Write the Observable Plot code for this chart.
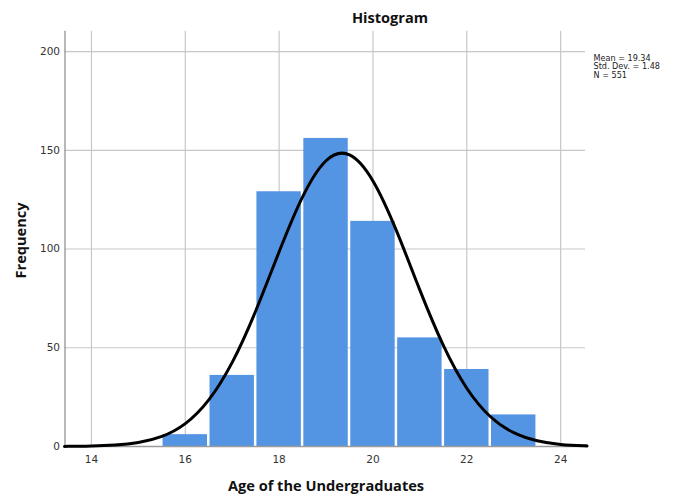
<!DOCTYPE html>
<html>
<head>
<meta charset="utf-8">
<script src="https://cdn.jsdelivr.net/npm/d3@7"></script>
<script src="https://cdn.jsdelivr.net/npm/@observablehq/plot@0.6"></script>
<style>
  html, body { margin: 0; padding: 0; background: #fff; }
</style>
</head>
<body>
<div id="chart"></div>
<script>
// Histogram bins (bin centers, width 1) and their frequencies
const binCenters = [16, 17, 18, 19, 20, 21, 22, 23];
const frequencies = [6, 36, 129, 156, 114, 55, 39, 16];

// Normal curve (age, frequency)
const curveAge  = [13.44, 13.5, 14, 14.5, 15, 15.5, 16, 16.5, 17, 17.5, 18, 18.5, 19, 19.5, 20, 20.5, 21, 21.5, 22, 22.5, 23, 23.5, 24, 24.5, 24.53];
const curveFreq = [0.06, 0.07, 0.22, 0.71, 2.0, 5.1, 11.6, 23.6, 42.6, 68.6, 98.6, 126.4, 144.7, 147.7, 134.5, 109.3, 79.2, 51.2, 29.5, 15.2, 7.0, 2.9, 1.05, 0.34, 0.32];

const xTicks = [14, 16, 18, 20, 22, 24];
const yTicks = [0, 50, 100, 150, 200];

const titleText = "Histogram";
const xLabel = "Age of the Undergraduates";
const yLabel = "Frequency";
const statsText = ["Mean = 19.34", "Std. Dev. = 1.48", "N = 551"];

const bars = binCenters.map((c, i) => ({x1: c - 0.5, x2: c + 0.5, y: frequencies[i]}));
const curve = curveAge.map((a, i) => ({x: a, y: curveFreq[i]}));
const stats = statsText.map((t, i) => ({t, i}));

const xDomain = [13.436, 24.53];
const yDomain = [0, 210.3];

const tickFont = "DejaVu Sans";
const boldFont = "'Open Sans', 'DejaVu Sans', sans-serif";
const statsFont = "'Liberation Sans Narrow', 'DejaVu Sans Condensed', sans-serif";

const chart = Plot.plot({
  width: 685,
  height: 499,
  marginLeft: 64.5,
  marginRight: 100,
  marginTop: 30.7,
  marginBottom: 53,
  style: {fontFamily: tickFont, fontSize: "10px", color: "#333", background: "#fff"},
  x: {domain: xDomain},
  y: {domain: yDomain},
  marks: [
    Plot.gridX(xTicks, {stroke: "#c8c8c8", strokeOpacity: 1, strokeWidth: 1.2}),
    Plot.gridY(yTicks.filter(d => d > 0), {stroke: "#c8c8c8", strokeOpacity: 1, strokeWidth: 1.2}),
    Plot.rectY(bars, {x1: "x1", x2: "x2", y: "y", fill: "#5495e3", insetLeft: 1.25, insetRight: 1.25}),
    Plot.ruleY([0], {stroke: "#9a9a9a", strokeWidth: 1.5}),
    Plot.ruleX([xDomain[0]], {stroke: "#8a8a8a", strokeWidth: 1.2}),
    Plot.line(curve, {x: "x", y: "y", stroke: "#000", strokeWidth: 3, curve: "natural"}),
    Plot.axisY({ticks: yTicks, tickSize: 0, tickPadding: 5, label: null, fontSize: 10.5, fill: "#333"}),
    Plot.axisX({ticks: xTicks, tickSize: 0, tickPadding: 9, label: null, fontSize: 10.5, fill: "#333"}),
    Plot.text([titleText], {text: d => d, frameAnchor: "top-left", dx: 325, dy: -12.5, textAnchor: "middle", lineAnchor: "middle", fontSize: 14.6, fontWeight: "bold", fontFamily: boldFont, fill: "#111"}),
    Plot.text([xLabel], {text: d => d, frameAnchor: "bottom-left", dx: 261, dy: 40, textAnchor: "middle", lineAnchor: "middle", fontSize: 14.6, fontWeight: "bold", fontFamily: boldFont, fill: "#111"}),
    Plot.text([yLabel], {text: d => d, frameAnchor: "left", dx: -43.5, dy: 1.6, rotate: -90, textAnchor: "middle", lineAnchor: "middle", fontSize: 14.6, fontWeight: "bold", fontFamily: boldFont, fill: "#111"}),
    ...stats.map(s => Plot.text([s.t], {text: d => d, frameAnchor: "top-right", dx: 8, dy: 26.8 + s.i * 8.6, textAnchor: "start", lineAnchor: "middle", fontSize: 9, fontFamily: statsFont, fill: "#222"}))
  ]
});

document.getElementById("chart").appendChild(chart);
</script>
</body>
</html>
